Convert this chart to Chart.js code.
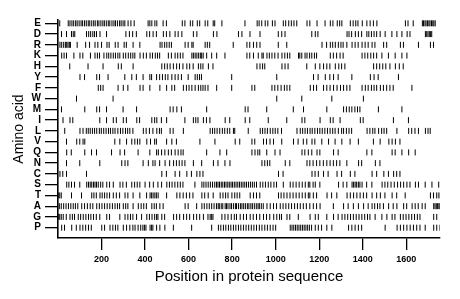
<!DOCTYPE html>
<html>
<head>
<meta charset="utf-8">
<script src="https://cdn.jsdelivr.net/npm/chart.js@4/dist/chart.umd.min.js"></script>
<style>
  html, body { margin: 0; padding: 0; background: #fff; }
  canvas { display: block; }
</style>
</head>
<body>
<canvas id="myChart" width="460" height="299"></canvas>
<script>
// rows bottom to top (y = index + 1)
const aminoAcids = ['P', 'G', 'A', 'T', 'S', 'C', 'N', 'Q', 'V', 'L', 'I', 'M', 'W', 'F', 'Y', 'H', 'K', 'R', 'D', 'E'];
const xTicks = [200, 400, 600, 800, 1000, 1200, 1400, 1600];
const seqLength = 1755;

// positions of each residue in the sequence
const posE = [8, 47, 55, 64, 72, 81, 88, 97, 106, 113, 122, 130, 139, 146, 155, 164, 171, 181, 188, 197, 206, 213, 222, 231, 238, 248, 257, 264, 273, 283, 290, 299, 307, 322, 335, 350, 414, 422, 431, 445, 454, 483, 498, 571, 583, 608, 619, 640, 651, 676, 688, 713, 720, 753, 859, 915, 924, 936, 952, 964, 985, 997, 1035, 1046, 1060, 1072, 1084, 1097, 1144, 1157, 1190, 1227, 1251, 1263, 1283, 1294, 1304, 1343, 1356, 1368, 1378, 1398, 1419, 1434, 1449, 1465, 1596, 1608, 1632, 1674, 1679, 1686, 1691, 1698, 1704, 1709, 1716, 1722, 1727, 1733];
const posD = [16, 39, 62, 70, 77, 131, 141, 150, 160, 168, 177, 193, 223, 312, 328, 343, 360, 408, 421, 437, 452, 484, 498, 514, 538, 552, 569, 622, 638, 714, 730, 829, 845, 882, 928, 1012, 1028, 1043, 1166, 1182, 1194, 1328, 1337, 1349, 1366, 1380, 1395, 1419, 1428, 1440, 1452, 1464, 1480, 1503, 1534, 1557, 1580, 1604, 1617, 1688, 1694, 1700, 1706, 1712, 1717];
const posR = [9, 17, 26, 34, 40, 46, 52, 57, 88, 127, 145, 170, 183, 200, 225, 235, 263, 276, 304, 314, 345, 376, 469, 478, 490, 500, 511, 521, 584, 598, 615, 621, 676, 686, 697, 805, 868, 881, 898, 913, 928, 1012, 1051, 1213, 1234, 1251, 1262, 1274, 1288, 1300, 1310, 1327, 1351, 1365, 1379, 1397, 1411, 1425, 1443, 1456, 1496, 1510, 1573, 1587, 1656, 1711, 1725];
const posK = [17, 28, 39, 73, 101, 114, 149, 170, 181, 191, 211, 224, 233, 243, 254, 264, 275, 284, 300, 311, 323, 334, 344, 353, 377, 392, 406, 423, 434, 447, 457, 467, 507, 521, 538, 550, 562, 574, 615, 622, 630, 638, 646, 654, 660, 667, 683, 706, 729, 767, 868, 881, 898, 920, 937, 943, 960, 971, 983, 996, 1011, 1029, 1042, 1054, 1065, 1105, 1111, 1120, 1135, 1144, 1156, 1166, 1178, 1188, 1251, 1265, 1280, 1296, 1310, 1397, 1410, 1423, 1437, 1450, 1464, 1488, 1518, 1549, 1580, 1603];
const posH = [54, 138, 207, 277, 291, 345, 477, 490, 502, 515, 530, 545, 558, 574, 592, 605, 621, 645, 656, 666, 691, 712, 914, 928, 940, 950, 1029, 1043, 1057, 1143, 1182, 1203, 1220, 1235, 1249, 1274, 1290, 1303, 1318, 1450, 1464, 1478, 1492, 1506, 1525, 1550, 1568, 1586];
const posY = [101, 122, 178, 191, 230, 307, 339, 360, 391, 422, 430, 453, 467, 480, 493, 505, 523, 538, 552, 567, 598, 630, 640, 650, 659, 798, 1005, 1174, 1195, 1228, 1249, 1266, 1287, 1350, 1435, 1452, 1471, 1564];
const posF = [185, 196, 207, 276, 300, 321, 377, 391, 422, 468, 499, 523, 536, 576, 590, 602, 615, 630, 645, 656, 666, 676, 689, 729, 798, 891, 904, 983, 996, 1010, 1025, 1040, 1052, 1065, 1159, 1174, 1188, 1220, 1235, 1250, 1266, 1282, 1298, 1312, 1327, 1341, 1397, 1412, 1425, 1440, 1452, 1464, 1481, 1495, 1510, 1525, 1540, 1626];
const posW = [85, 253, 1005, 1120, 1258, 1403];
const posM = [16, 123, 178, 191, 223, 299, 361, 515, 529, 546, 567, 683, 860, 873, 959, 1081, 1128, 1235, 1312, 1325, 1338, 1350, 1364, 1376, 1387, 1472, 1580];
const posI = [23, 55, 68, 192, 223, 254, 268, 300, 314, 362, 375, 431, 444, 454, 475, 499, 583, 622, 633, 643, 668, 682, 698, 768, 789, 860, 881, 966, 1051, 1121, 1134, 1204, 1251, 1264, 1296, 1389, 1402, 1541, 1610];
const posL = [31, 101, 115, 130, 139, 148, 158, 168, 178, 190, 199, 210, 221, 232, 241, 252, 262, 275, 287, 298, 310, 320, 330, 344, 392, 405, 420, 436, 454, 466, 475, 515, 529, 576, 699, 710, 720, 731, 743, 755, 766, 778, 789, 806, 812, 874, 929, 940, 951, 962, 975, 987, 998, 1010, 1027, 1098, 1113, 1124, 1135, 1146, 1158, 1168, 1180, 1192, 1203, 1214, 1226, 1238, 1250, 1262, 1273, 1288, 1303, 1312, 1325, 1337, 1349, 1420, 1433, 1446, 1456, 1473, 1487, 1498, 1510, 1557, 1611, 1625, 1640, 1656, 1688, 1700, 1710];
const posV = [39, 86, 100, 115, 123, 261, 284, 315, 339, 353, 365, 376, 408, 425, 444, 452, 499, 523, 544, 652, 721, 814, 835, 891, 904, 944, 958, 974, 990, 1028, 1082, 1103, 1127, 1143, 1167, 1180, 1212, 1243, 1273, 1304, 1342, 1380, 1449, 1480, 1520, 1535, 1550, 1571];
const posQ = [40, 61, 123, 154, 177, 246, 285, 306, 368, 422, 453, 461, 476, 491, 507, 521, 538, 552, 565, 575, 683, 744, 775, 891, 905, 918, 927, 959, 997, 1020, 1121, 1134, 1150, 1166, 1190, 1203, 1266, 1287, 1419, 1442, 1535, 1549, 1580, 1611, 1641];
const posN = [39, 100, 192, 293, 308, 321, 391, 415, 436, 446, 467, 492, 513, 531, 544, 557, 570, 583, 622, 660, 714, 735, 767, 790, 937, 950, 962, 973, 1044, 1065, 1144, 1157, 1172, 1188, 1203, 1219, 1235, 1250, 1265, 1280, 1295, 1327, 1381, 1395, 1458, 1479];
const posC = [9, 22, 39, 131, 477, 498, 538, 559, 592, 613, 638, 652, 666, 1013, 1034, 1167, 1181, 1196, 1220, 1241, 1282, 1303, 1343, 1364, 1443, 1464, 1497, 1518, 1542, 1556, 1571];
const posS = [40, 50, 62, 76, 100, 132, 140, 148, 155, 163, 170, 177, 185, 196, 206, 224, 237, 254, 285, 298, 314, 339, 352, 364, 376, 400, 421, 438, 459, 476, 500, 512, 524, 537, 550, 562, 574, 629, 661, 670, 680, 690, 700, 710, 720, 728, 735, 742, 750, 757, 765, 772, 780, 787, 795, 802, 810, 818, 826, 834, 842, 850, 858, 866, 875, 884, 893, 902, 912, 929, 941, 953, 966, 978, 992, 1004, 1035, 1067, 1080, 1094, 1108, 1122, 1136, 1150, 1157, 1172, 1182, 1203, 1289, 1310, 1327, 1351, 1358, 1365, 1372, 1380, 1387, 1397, 1418, 1442, 1489, 1502, 1515, 1530, 1545, 1560, 1574, 1588, 1603, 1617, 1642, 1656, 1687, 1718, 1749];
const posT = [1, 8, 15, 62, 108, 155, 165, 176, 193, 203, 214, 225, 237, 254, 268, 283, 308, 321, 345, 376, 407, 423, 430, 437, 445, 452, 460, 499, 546, 560, 575, 590, 605, 620, 661, 674, 690, 713, 745, 758, 770, 781, 799, 812, 823, 835, 883, 898, 912, 927, 1013, 1025, 1038, 1052, 1066, 1080, 1094, 1108, 1122, 1136, 1150, 1157, 1173, 1188, 1236, 1257, 1281, 1328, 1343, 1358, 1373, 1388, 1403, 1418, 1443, 1464, 1481, 1502, 1535, 1556, 1595, 1711, 1725, 1740, 1750];
const posA = [6, 15, 26, 37, 48, 59, 70, 80, 91, 109, 122, 135, 148, 160, 178, 190, 202, 214, 226, 238, 250, 262, 273, 283, 300, 311, 321, 345, 369, 382, 394, 406, 431, 442, 452, 468, 483, 584, 598, 637, 661, 672, 684, 695, 706, 717, 728, 736, 741, 750, 757, 768, 774, 781, 790, 797, 806, 815, 820, 829, 838, 845, 853, 861, 870, 877, 886, 893, 902, 911, 919, 925, 934, 943, 960, 975, 990, 1004, 1021, 1034, 1047, 1060, 1073, 1087, 1100, 1113, 1127, 1141, 1157, 1173, 1188, 1204, 1265, 1312, 1333, 1357, 1380, 1404, 1425, 1443, 1455, 1468, 1479, 1495, 1519, 1540, 1557, 1588, 1602, 1627, 1641, 1655, 1673, 1687, 1726, 1732, 1738, 1744, 1750, 1755];
const posG = [1, 8, 15, 24, 38, 55, 66, 76, 93, 104, 116, 128, 140, 151, 163, 176, 192, 224, 237, 284, 308, 321, 333, 344, 361, 384, 408, 420, 432, 444, 453, 459, 477, 490, 531, 545, 559, 577, 591, 605, 623, 637, 651, 668, 689, 699, 706, 712, 753, 767, 781, 796, 810, 820, 837, 852, 866, 883, 897, 912, 927, 944, 958, 973, 991, 1005, 1018, 1027, 1052, 1065, 1104, 1158, 1182, 1196, 1235, 1266, 1287, 1305, 1318, 1331, 1344, 1357, 1370, 1383, 1396, 1409, 1422, 1433, 1457, 1488, 1511, 1535, 1548, 1573, 1586, 1599, 1612, 1625, 1638, 1651, 1663, 1726, 1740];
const posP = [17, 30, 63, 84, 101, 114, 127, 140, 153, 201, 214, 239, 252, 264, 275, 300, 315, 330, 344, 354, 368, 380, 390, 397, 404, 423, 430, 436, 453, 468, 491, 530, 614, 706, 737, 748, 760, 771, 783, 794, 806, 817, 829, 840, 852, 864, 876, 888, 900, 912, 925, 937, 950, 962, 975, 988, 1000, 1067, 1075, 1083, 1091, 1099, 1107, 1115, 1123, 1131, 1139, 1147, 1155, 1165, 1182, 1196, 1211, 1235, 1258, 1335, 1350, 1365, 1380, 1395, 1503, 1558, 1573, 1588, 1603, 1618, 1633, 1648, 1663, 1687, 1726, 1740, 1755];

const rowPositions = [posP, posG, posA, posT, posS, posC, posN, posQ, posV, posL, posI, posM, posW, posF, posY, posH, posK, posR, posD, posE];

const datasets = rowPositions.map((list, i) => ({
    label: aminoAcids[i],
    data: list.map(p => ({ x: p, y: i + 1 })),
    pointStyle: 'line',
    rotation: 90,
    radius: 3,
    borderWidth: 1,
    borderColor: '#000',
    backgroundColor: '#000'
}));

new Chart(document.getElementById('myChart'), {
    type: 'scatter',
    data: { datasets: datasets },
    options: {
        responsive: false,
        animation: false,
        devicePixelRatio: 1,
        layout: { padding: { top: 20, right: 20, left: 0, bottom: 0 } },
        plugins: { legend: { display: false }, tooltip: { enabled: false } },
        scales: {
            x: {
                type: 'linear',
                min: 0,
                max: seqLength,
                afterBuildTicks: s => { s.ticks = xTicks.map(v => ({ value: v })); },
                afterFit: s => { s.height = 61; },
                ticks: {
                    color: '#000',
                    padding: 4,
                    autoSkip: false,
                    maxRotation: 0,
                    font: { family: 'Liberation Sans', size: 9, weight: 'bold' },
                    callback: v => String(v)
                },
                grid: { drawOnChartArea: false, tickLength: 12, color: '#000', lineWidth: 1.3 },
                border: { color: '#000', width: 1.6 },
                title: {
                    display: true,
                    text: 'Position in protein sequence',
                    color: '#000',
                    font: { family: 'Liberation Sans', size: 15 },
                    padding: { top: 2, bottom: 13 }
                }
            },
            y: {
                type: 'linear',
                min: 0.04,
                max: 20.31,
                afterBuildTicks: s => { s.ticks = aminoAcids.map((a, i) => ({ value: i + 1 })); },
                afterFit: s => { s.width = 58; },
                ticks: {
                    color: '#000',
                    padding: 4,
                    autoSkip: false,
                    font: { family: 'Liberation Sans', size: 10, weight: 'bold' },
                    callback: v => aminoAcids[v - 1]
                },
                grid: { drawOnChartArea: false, tickLength: 13, color: '#000', lineWidth: 1.3 },
                border: { color: '#000', width: 1.6 },
                title: {
                    display: true,
                    text: 'Amino acid',
                    color: '#000',
                    font: { family: 'Liberation Sans', size: 14 },
                    padding: { top: 10.5, bottom: 2 }
                }
            }
        }
    }
});
</script>
</body>
</html>
